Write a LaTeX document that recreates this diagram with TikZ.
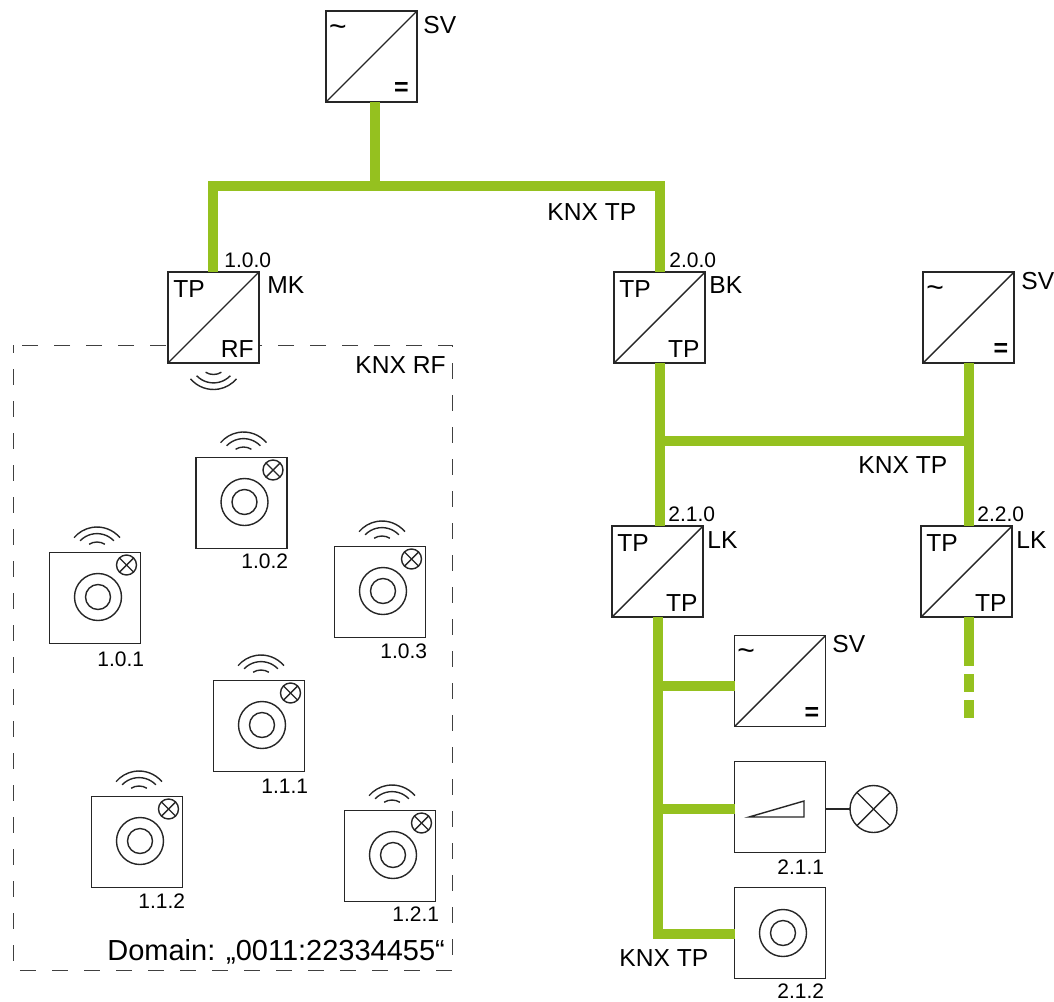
\documentclass[tikz,border=0pt]{standalone}
\usepackage{fontspec}
\setmainfont{Liberation Sans}
\definecolor{knxgreen}{HTML}{95C11F}
\colorlet{wire}{black!85}
\tikzset{
  device/.style = {draw=wire,line width=0.7pt,fill=white,minimum size=45.5pt,inner sep=0pt,outer sep=0pt},
  converter/.style = {
    device,
    path picture={\draw[wire,line width=0.7pt] (path picture bounding box.south west) -- (path picture bounding box.north east);}
  },
  lamp/.style = {
    circle,draw=wire,line width=0.7pt,inner sep=0pt,outer sep=0pt,
    path picture={
      \draw[wire,line width=0.7pt] (path picture bounding box.south west) -- (path picture bounding box.north east);
      \draw[wire,line width=0.7pt] (path picture bounding box.north west) -- (path picture bounding box.south east);
    }
  },
  bus/.style = {draw=knxgreen,line width=5pt},
  thinwire/.style = {draw=wire,line width=0.7pt},
  txt/.style = {inner sep=0pt,anchor=base west,font=\fontsize{12.3}{14}\selectfont},
  addr/.style = {inner sep=0pt,anchor=base west,font=\fontsize{10.5}{12}\selectfont},
  acsign/.style = {inner sep=0pt,font=\fontsize{15}{16}\selectfont},
  dcsign/.style = {inner sep=0pt,font=\fontsize{12.5}{14}\selectfont\bfseries},
  waves/.pic = {
    \draw[thinwire] ( 40:15pt) arc[start angle=40,end angle=140,radius=15pt];
    \draw[thinwire] ( 44:11.7pt) arc[start angle=44,end angle=136,radius=11.7pt];
    \draw[thinwire] ( 58:7.5pt) arc[start angle=58,end angle=122,radius=7.5pt];
  },
  ringbutton/.pic = {
    \node[circle,draw=wire,line width=0.7pt,minimum size=23.5pt,inner sep=0pt] (-outer) at (0,0) {};
    \node[circle,draw=wire,line width=0.7pt,minimum size=12.5pt,inner sep=0pt] (-inner) at (0,0) {};
  },
  sensor/.pic = {
    \node[device] (-box) at (0,0) {};
    \pic at (3,-1) {ringbutton};
    \pic at (2,-41) {waves};
    \node[lamp,minimum size=10pt] (-lamp) at (31.5,-33) {};
  }
}

\begin{document}
\begin{tikzpicture}[x=0.5pt,y=-0.5pt]
  \useasboundingbox (0,0) rectangle (1054,1001);
  % RF domain
  \draw[black!75,line width=0.5pt,dash pattern=on 8pt off 8pt,dash phase=4pt] (13,345) rectangle (452.5,970);
  % Converters
  \node[converter] (svTop) at (371.5,56.5) {};
  \node[converter] (mk) at (213.5,317.5) {};
  \node[converter] (bk) at (659.5,317.5) {};
  \node[converter] (svRight) at (968.5,317.5) {};
  \node[converter] (lkA) at (657.5,571.5) {};
  \node[converter] (lkB) at (966.5,571.5) {};
  \node[converter] (svLine) at (780,681) {};
  % Line devices
  \node[device] (dimmer) at (780,807) {};
  \node[device] (button) at (780,933) {};
  \pic at (783,933) {ringbutton};
  \node[lamp,minimum size=23.5pt] (load) at (873.5,809) {};
  \draw[thinwire] (dimmer.east |- load) -- (load.west);
  \draw[thinwire] (749,817) -- (804,801) -- (804,817) -- cycle;
  % 
  \coordinate (J1) at (374.5,186);
  \coordinate (J2) at (213,186);
  \coordinate (J3) at (660,186);
  \draw[bus] (J1) -- (J1 |- svTop.south);
  \draw[bus] (mk.north -| J2) -- (J2) -- (J3) -- (bk.north -| J3);
  % 
  \coordinate (J4) at (660,441);
  \coordinate (J5) at (968.5,441);
  \draw[bus] (J4 |- bk.south) -- (J4 |- lkA.north);
  \draw[bus] (J5 |- svRight.south) -- (J5 |- lkB.north);
  \draw[bus] (J4) -- (J5);
  % 
  \coordinate (J6) at (658,686);
  \coordinate (J7) at (658,809);
  \coordinate (J8) at (658,934);
  \draw[bus] (J6 |- lkA.south) -- (J8) -- (J8 -| button.west);
  \draw[bus] (J6) -- (J6 -| svLine.west);
  \draw[bus] (J7) -- (J7 -| dimmer.west);
  \draw[bus,dash pattern=on 24.5pt off 4pt on 9pt off 4pt on 9pt] (J5 |- lkB.south) -- ++(0,102);
  % Sensors
  \pic (sA) at (241.5,503) {sensor};
  \pic (sB) at (95,598) {sensor};
  \pic (sC) at (380,592) {sensor};
  \pic (sD) at (259,726) {sensor};
  \pic (sE) at (137,842) {sensor};
  \pic (sF) at (390,856) {sensor};
  \pic[rotate=180] at (213.5,359.5) {waves};
  % Box signs
  \node[txt] (mkIn) at (173,297) {TP};
  \node[txt,anchor=base east] (mkOut) at (254,357) {RF};
  \node[txt] (bkIn) at (619,297) {TP};
  \node[txt,anchor=base east] (bkOut) at (700,357) {TP};
  \node[txt] (lkAIn) at (617,551) {TP};
  \node[txt,anchor=base east] (lkAOut) at (698,611) {TP};
  \node[txt] (lkBIn) at (926,551) {TP};
  \node[txt,anchor=base east] (lkBOut) at (1007,611) {TP};
  \node[acsign] (svTopAc) at (338,31) {\textasciitilde};
  \node[dcsign] (svTopDc) at (401.5,88.5) {=};
  \node[acsign] (svRightAc) at (935,292) {\textasciitilde};
  \node[dcsign] (svRightDc) at (1001,350) {=};
  \node[acsign] (svLineAc) at (746,655) {\textasciitilde};
  \node[dcsign] (svLineDc) at (812,714) {=};
  % Device names
  \node[txt] (nSvTop) at (423,33) {SV};
  \node[txt] (nMk) at (267,293) {MK};
  \node[txt] (nBk) at (709,293) {BK};
  \node[txt] (nSvRight) at (1021,289) {SV};
  \node[txt] (nLkA) at (707,548) {LK};
  \node[txt] (nLkB) at (1016,548) {LK};
  \node[txt] (nSvLine) at (832,652) {SV};
  % Bus names
  \node[txt] (tpTop) at (547,220) {KNX TP};
  \node[txt] (tpMid) at (858,473) {KNX TP};
  \node[txt] (tpLow) at (619,966) {KNX TP};
  \node[txt] (rf) at (355,373) {KNX RF};
  \node[txt,font=\fontsize{14.5}{16}\selectfont] (domain) at (107,960) {Domain: „0011:22334455“};
  % Addresses
  \node[addr] (a100) at (224,267) {1.0.0};
  \node[addr] (a200) at (669,267) {2.0.0};
  \node[addr] (a210) at (668,521) {2.1.0};
  \node[addr] (a220) at (977,521) {2.2.0};
  \node[addr] (a102) at (241,568) {1.0.2};
  \node[addr] (a101) at (97,666) {1.0.1};
  \node[addr] (a103) at (380,658) {1.0.3};
  \node[addr] (a111) at (261,793) {1.1.1};
  \node[addr] (a112) at (138,908) {1.1.2};
  \node[addr] (a121) at (392,921) {1.2.1};
  \node[addr] (a211) at (777,874) {2.1.1};
  \node[addr] (a212) at (777,998) {2.1.2};
\end{tikzpicture}
\end{document}
